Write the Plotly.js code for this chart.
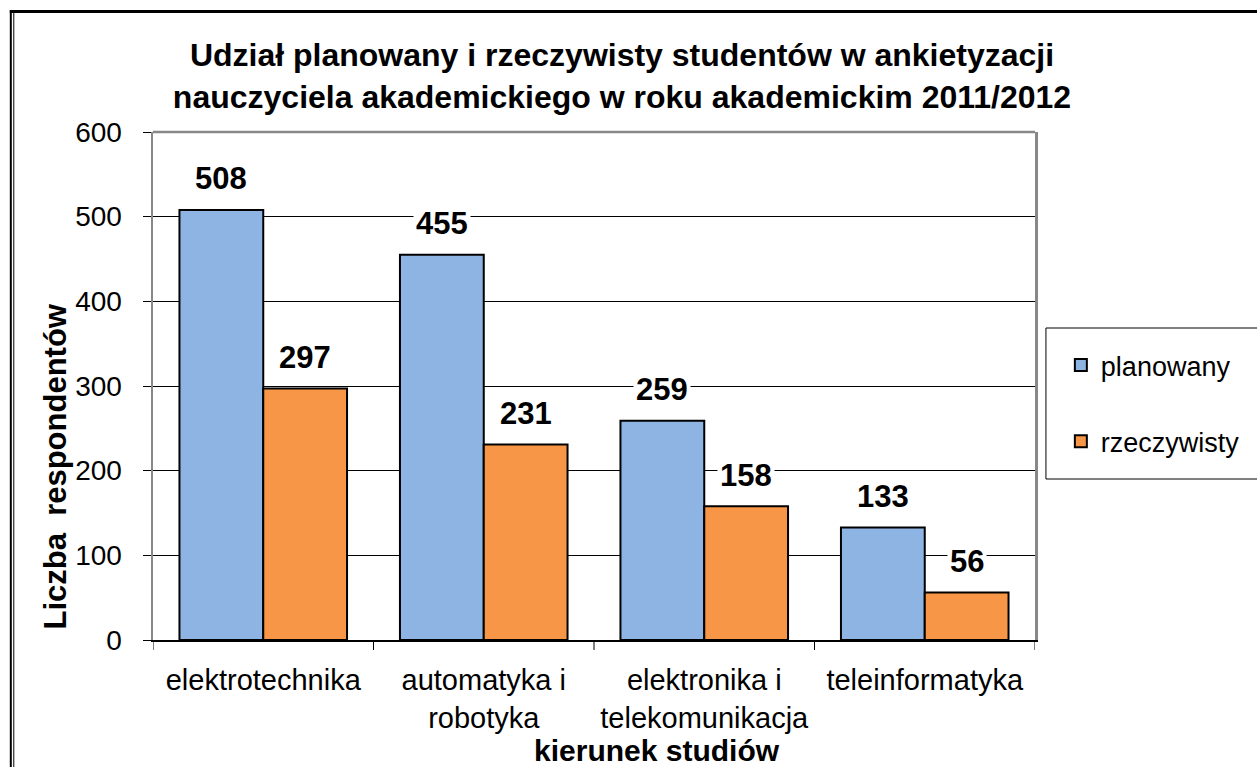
<!DOCTYPE html>
<html>
<head>
<meta charset="utf-8">
<script src="https://cdn.plot.ly/plotly-3.0.1.min.js"></script>
<style>html,body{margin:0;padding:0;background:#fff;}#chart{width:1257px;height:767px;}</style>
</head>
<body>
<div id="chart"></div>
<script>
const categories = ["elektrotechnika", "automatyka i<br>robotyka", "elektronika i<br>telekomunikacja", "teleinformatyka"];
const planowany = [508, 455, 259, 133];
const rzeczywisty = [297, 231, 158, 56];
const seriesNames = ["planowany", "rzeczywisty"];
const yTickVals = [0, 100, 200, 300, 400, 500, 600];

const FONT = "Liberation Sans, Arial, sans-serif";
const W = 1257, H = 767;
const M = {l: 153, r: 217, t: 132, b: 127};
const PW = W - M.l - M.r, PH = H - M.t - M.b;
const px = x => (x - M.l) / PW;
const py = y => (H - M.b - y) / PH;

const BARGAP = 0.24;
const half = (1 - BARGAP) / 2;

const traces = [
  {type: "bar", name: seriesNames[0], x: categories.map((c, i) => i), y: planowany,
   legendgroup: "a",
   marker: {color: "#8EB4E3", line: {color: "#000", width: 2}}, hoverinfo: "y"},
  {type: "bar", name: seriesNames[1], x: categories.map((c, i) => i), y: rzeczywisty,
   legendgroup: "b",
   marker: {color: "#F79646", line: {color: "#000", width: 2}}, hoverinfo: "y"}
];

const annotations = [];
[planowany, rzeczywisty].forEach((arr, s) => {
  arr.forEach((v, i) => {
    annotations.push({
      x: i + (s === 0 ? -half / 2 : half / 2), y: v, xref: "x", yref: "y",
      text: String(v), showarrow: false, yanchor: "middle", yshift: 31,
      bgcolor: "#fff", borderpad: 2,
      font: {family: FONT, size: 31, color: "#000", weight: "bold"}
    });
  });
});
annotations.push({
  xref: "paper", yref: "paper", x: px(55), y: py(467), textangle: -90,
  text: "Liczba  respondentów", showarrow: false, xanchor: "center", yanchor: "middle",
  font: {family: FONT, size: 31, color: "#000", weight: "bold"}
});
annotations.push({
  xref: "paper", yref: "paper", x: px(660), y: py(750),
  text: "kierunek studiów", showarrow: false, xanchor: "center", yanchor: "middle",
  font: {family: FONT, size: 30, color: "#000", weight: "bold"}
});

const shapes = [
  // plot area top border
  {type: "line", xref: "paper", yref: "paper", x0: 0, x1: 1, y0: 1, y1: 1, line: {color: "#888", width: 2.5}},
  // legend frame
  {type: "rect", xref: "paper", yref: "paper", x0: px(1051), x1: px(1265), y0: py(479), y1: py(328), line: {color: "#000", width: 1}},
  // outer frame
  {type: "line", xref: "paper", yref: "paper", x0: px(10), x1: px(10), y0: py(780), y1: py(10), line: {color: "#000", width: 2}},
  {type: "line", xref: "paper", yref: "paper", x0: px(13), x1: px(13), y0: py(780), y1: py(12), line: {color: "#000", width: 1}},
  {type: "line", xref: "paper", yref: "paper", x0: px(9), x1: px(1270), y0: py(11.5), y1: py(11.5), line: {color: "#000", width: 3}}
];

// category boundary ticks on the x axis
for (let i = -1; i < categories.length; i++) {
  shapes.push({type: "line", xref: "x", yref: "paper", x0: i + 0.5, x1: i + 0.5, y0: 0, y1: -10 / PH, line: {color: "#000", width: 1}});
}

const layout = {
  width: W, height: H,
  margin: M,
  paper_bgcolor: "#fff", plot_bgcolor: "#fff",
  font: {family: FONT, color: "#000"},
  title: {
    text: "Udział planowany i rzeczywisty studentów w ankietyzacji<br>nauczyciela akademickiego w roku akademickim 2011/2012",
    font: {family: FONT, size: 32, color: "#000", weight: "bold"},
    xref: "container", yref: "container", x: 622 / W, xanchor: "center",
    y: 1 - 66 / H, yanchor: "middle"
  },
  barmode: "group", bargap: BARGAP, bargroupgap: 0,
  showlegend: true,
  legend: {
    x: px(1066), y: py(341), xanchor: "left", yanchor: "top",
    traceorder: "grouped", tracegroupgap: 38,
    bgcolor: "rgba(0,0,0,0)", borderwidth: 0,
    font: {family: FONT, size: 27, color: "#000"}
  },
  xaxis: {
    type: "linear", range: [-0.5, 3.5],
    tickmode: "array", tickvals: [0, 1, 2, 3], ticktext: categories,
    showgrid: false, zeroline: false,
    showline: true, linecolor: "#000", linewidth: 2,
    ticks: "",
    tickfont: {family: FONT, size: 29, color: "#000"},
    ticklabelstandoff: 13,
    automargin: false, fixedrange: true
  },
  yaxis: {
    range: [0, 600], tickmode: "array", tickvals: yTickVals,
    showgrid: true, gridcolor: "#000", gridwidth: 1,
    zeroline: false,
    showline: true, linecolor: "#888", linewidth: 2.5, mirror: true,
    ticks: "outside", ticklen: 8, tickcolor: "#000", tickwidth: 1,
    ticklabelstandoff: 15,
    tickfont: {family: FONT, size: 28, color: "#000"},
    automargin: false, fixedrange: true
  },
  annotations: annotations,
  shapes: shapes
};

Plotly.newPlot("chart", traces, layout, {displayModeBar: false, staticPlot: true});
</script>
</body>
</html>
